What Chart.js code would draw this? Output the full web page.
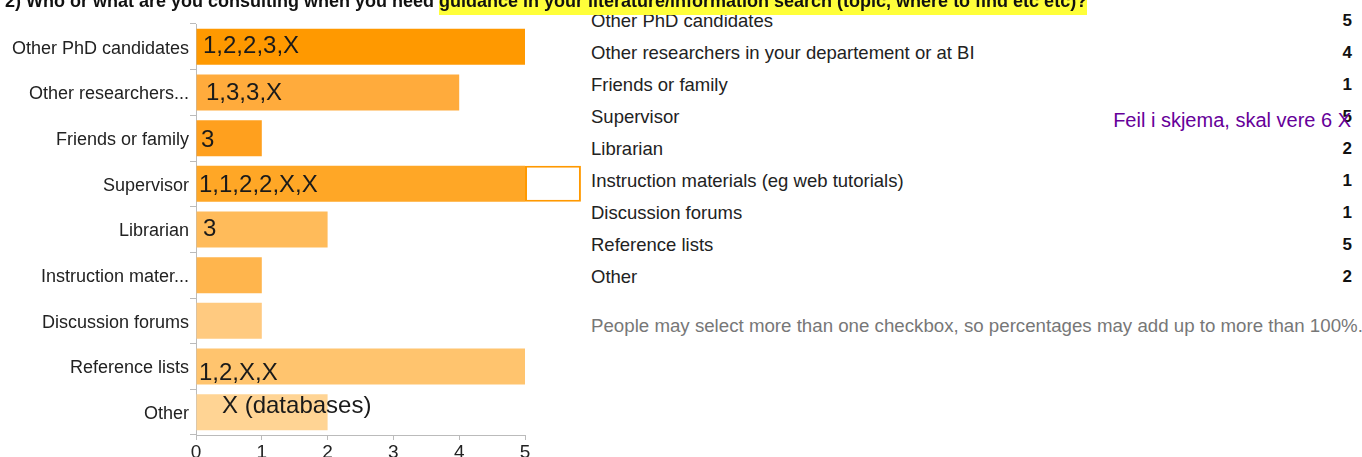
<!DOCTYPE html>
<html>
<head>
<meta charset="utf-8">
<script src="https://cdn.jsdelivr.net/npm/chart.js@4/dist/chart.umd.min.js"></script>
<style>
    body { margin: 0; width: 1362px; height: 457px; overflow: hidden; background: #fff; font-family: "Liberation Sans", Arial, sans-serif; position: relative; }
    #title { position: absolute; left: 5px; top: -9px; font-weight: bold; font-size: 18px; line-height: 21px; color: #111; white-space: nowrap; z-index: 2; }
    #title .hl { background: #ffff3a; padding-bottom: 4px; }
    #chartBox { position: absolute; left: 0; top: 0; }
    #table { position: absolute; left: 591px; top: 5px; width: 761px; }
    .row { display: flex; justify-content: space-between; align-items: center; height: 32px; font-size: 18.5px; color: #222; }
    .row b { font-size: 17px; color: #111; }
    #fix { position: absolute; right: 11px; top: 107px; font-size: 20px; color: #660099; line-height: 26px; }
    #foot { position: absolute; left: 591px; top: 315px; font-size: 18.7px; color: #777; white-space: nowrap; }
</style>
</head>
<body>
<div id="title">2) Who or what are you consulting when you need <span class="hl">guidance in your literature/information search (topic, where to find etc etc)?</span></div>
<div id="chartBox"><canvas id="myChart" width="590" height="457"></canvas></div>
<div id="table"></div>
<div id="fix">Feil i skjema, skal vere 6 X</div>
<div id="foot">People may select more than one checkbox, so percentages may add up to more than 100%.</div>
<script>
const categories = ["Other PhD candidates", "Other researchers...", "Friends or family", "Supervisor", "Librarian", "Instruction mater...", "Discussion forums", "Reference lists", "Other"];
const fullNames = ["Other PhD candidates", "Other researchers in your departement or at BI", "Friends or family", "Supervisor", "Librarian", "Instruction materials (eg web tutorials)", "Discussion forums", "Reference lists", "Other"];
const counts = [5, 4, 1, 5, 2, 1, 1, 5, 2];
const correction = [null, null, null, 0.85, null, null, null, null, null]; // the hand-drawn "should be 6" box
const notes = ["1,2,2,3,X", "1,3,3,X", "3", "1,1,2,2,X,X", "3", "", "", "1,2,X,X", "X (databases)"];
const xTicks = [0, 1, 2, 3, 4, 5];

const barColors = ["#ff9900", "#ffab3c", "#ffa01e", "#ffa726", "#ffbb5a", "#ffb54d", "#ffca80", "#ffc46e", "#ffd494"];

// right-hand summary table
const table = document.getElementById("table");
fullNames.forEach((name, i) => {
    const row = document.createElement("div");
    row.className = "row";
    row.innerHTML = "<span>" + name + "</span><b>" + counts[i] + "</b>";
    table.appendChild(row);
});

// handwritten notes on top of the bars, offsets in px from the bar start
const noteOffsets = {0: [7, 0], 1: [10, 1], 2: [5, 2], 3: [3, 2], 4: [7, 0], 7: [3, 7], 8: [26, -6]};
const notesPlugin = {
    id: "notes",
    afterDatasetsDraw(chart) {
        const ctx = chart.ctx;
        const bars = chart.getDatasetMeta(0).data;
        const x0 = chart.scales.x.getPixelForValue(0);
        ctx.save();
        ctx.font = "24px 'Liberation Sans', Arial, sans-serif";
        ctx.fillStyle = "#1a1a1a";
        ctx.textBaseline = "middle";
        notes.forEach((txt, i) => {
            if (!txt) return;
            const off = noteOffsets[i] || [5, 0];
            ctx.fillText(txt, x0 + off[0], bars[i].y + off[1]);
        });
        ctx.restore();
    }
};

const ctx = document.getElementById("myChart").getContext("2d");
new Chart(ctx, {
    type: "bar",
    data: {
        labels: categories,
        datasets: [
            {
                data: counts,
                backgroundColor: barColors,
                borderWidth: 0,
                barPercentage: 0.79,
                categoryPercentage: 1
            },
            {
                data: correction,
                backgroundColor: "#ffffff",
                borderColor: "#ff9900",
                borderWidth: 2,
                borderSkipped: false,
                barPercentage: 0.79,
                categoryPercentage: 1,
                clip: false
            }
        ]
    },
    plugins: [notesPlugin],
    options: {
        indexAxis: "y",
        responsive: false,
        animation: false,
        layout: {
            padding: {top: 24, right: 65, left: 0, bottom: 0}
        },
        plugins: {
            legend: {display: false},
            tooltip: {enabled: false}
        },
        scales: {
            x: {
                stacked: true,
                min: 0,
                max: 5,
                afterBuildTicks: (s) => { s.ticks = xTicks.map((v) => ({value: v})); },
                afterFit: (s) => { s.height = 22; },
                grid: {drawOnChartArea: false, tickLength: 5, color: "#bbb"},
                border: {color: "#bbb"},
                ticks: {color: "#222", padding: 1, font: {family: "Liberation Sans", size: 19}}
            },
            y: {
                stacked: true,
                afterFit: (s) => { s.width = 196; },
                grid: {drawOnChartArea: false, tickLength: 6, color: "#bbb"},
                border: {color: "#bbb"},
                ticks: {color: "#222", padding: 1, labelOffset: 2, font: {family: "Liberation Sans", size: 18}}
            }
        }
    }
});
</script>
</body>
</html>
